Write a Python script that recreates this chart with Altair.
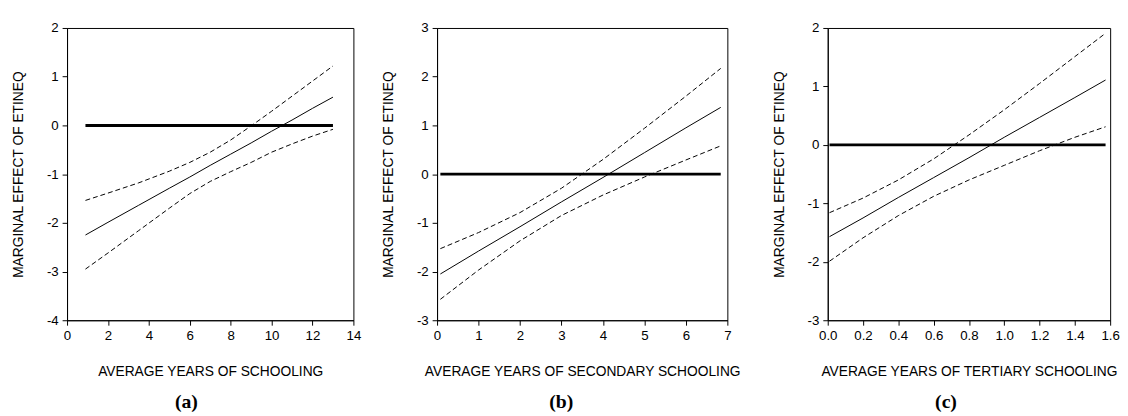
import altair as alt
import pandas as pd

# ---------------- data ----------------
# Panel (a): average years of schooling
A_X = [0.9, 2, 3.5, 5, 6, 7, 8, 9, 10, 11, 12, 13]
A_EST = [-2.25, -1.99, -1.64, -1.29, -1.06, -0.82, -0.59, -0.36, -0.12, 0.11, 0.35, 0.58]
A_UP = [-1.54, -1.39, -1.18, -0.94, -0.76, -0.55, -0.30, -0.01, 0.29, 0.60, 0.91, 1.22]
A_LO = [-2.95, -2.62, -2.16, -1.70, -1.40, -1.15, -0.95, -0.76, -0.55, -0.38, -0.22, -0.08]
A_XTICKS = [0, 2, 4, 6, 8, 10, 12, 14]
A_YTICKS = [2, 1, 0, -1, -2, -3, -4]

# Panel (b): average years of secondary schooling
B_X = [0.08, 1, 2, 3, 4, 5, 6, 6.84]
B_EST = [-2.05, -1.58, -1.08, -0.57, -0.07, 0.44, 0.95, 1.37]
B_UP = [-1.53, -1.20, -0.79, -0.29, 0.30, 0.94, 1.60, 2.17]
B_LO = [-2.57, -1.97, -1.37, -0.85, -0.43, -0.06, 0.29, 0.58]
B_XTICKS = [0, 1, 2, 3, 4, 5, 6, 7]
B_YTICKS = [3, 2, 1, 0, -1, -2, -3]

# Panel (c): average years of tertiary schooling
C_X = [0.01, 0.2, 0.4, 0.6, 0.8, 1.0, 1.2, 1.4, 1.574]
C_EST = [-1.57, -1.25, -0.90, -0.56, -0.22, 0.13, 0.47, 0.81, 1.11]
C_UP = [-1.16, -0.91, -0.60, -0.24, 0.17, 0.60, 1.05, 1.51, 1.91]
C_LO = [-1.99, -1.59, -1.21, -0.88, -0.60, -0.35, -0.10, 0.13, 0.31]
C_XTICKS = [0.0, 0.2, 0.4, 0.6, 0.8, 1.0, 1.2, 1.4, 1.6]
C_YTICKS = [2, 1, 0, -1, -2, -3]

Y_TITLE = "MARGINAL EFFECT OF ETINEQ"
LABEL_EXPR = "replace(datum.label, '\u2212', '-')"


def panel(xs, est, up, lo, xticks, yticks, xdom, ydom, xtitle, caption, width, xfmt):
    df_est = pd.DataFrame({"x": xs, "y": est})
    df_band = pd.DataFrame({
        "x": list(xs) + list(xs),
        "y": list(up) + list(lo),
        "band": ["upper"] * len(xs) + ["lower"] * len(xs),
    })
    df_zero = pd.DataFrame({"x": [xs[0], xs[-1]], "y": [0, 0]})

    xenc = alt.X("x:Q",
                 scale=alt.Scale(domain=xdom, nice=False, zero=False),
                 axis=alt.Axis(values=xticks, format=xfmt, title=xtitle,
                               labelFlush=False, labelExpr=LABEL_EXPR))
    yenc = alt.Y("y:Q",
                 scale=alt.Scale(domain=ydom, nice=False, zero=False),
                 axis=alt.Axis(values=yticks, format="d", title=Y_TITLE,
                               labelExpr=LABEL_EXPR))

    zero = alt.Chart(df_zero).mark_line(color="black", strokeWidth=3).encode(x=xenc, y=yenc)
    band = alt.Chart(df_band).mark_line(color="black", strokeWidth=1,
                                        strokeDash=[5, 3]).encode(
        x=xenc, y=yenc, detail="band:N")
    line = alt.Chart(df_est).mark_line(color="black", strokeWidth=1).encode(x=xenc, y=yenc)

    return alt.layer(zero, band, line).properties(
        width=width, height=297,
        title=alt.TitleParams(caption, orient="bottom", anchor="middle", frame="bounds"),
    )


pa = panel(A_X, A_EST, A_UP, A_LO, A_XTICKS, A_YTICKS, [0, 14], [-4, 2],
           "AVERAGE YEARS OF SCHOOLING", "(a)", 291, "d")
pb = panel(B_X, B_EST, B_UP, B_LO, B_XTICKS, B_YTICKS, [0, 7], [-3, 3],
           "AVERAGE YEARS OF SECONDARY SCHOOLING", "(b)", 295, "d")
pc = panel(C_X, C_EST, C_UP, C_LO, C_XTICKS, C_YTICKS, [0, 1.6], [-3, 2],
           "AVERAGE YEARS OF TERTIARY SCHOOLING", "(c)", 287, ".1f")

chart = alt.hconcat(
    alt.hconcat(pa, pb, spacing=19), pc, spacing=31
).properties(
    padding={"left": 3, "top": 9, "right": 0, "bottom": 0}
).configure(
    font="Liberation Sans"
).configure_view(
    stroke="black", strokeWidth=1
).configure_axis(
    domainColor="black", tickColor="black", labelColor="black", titleColor="black",
    labelFont="Liberation Sans", titleFont="Liberation Sans",
    labelFontSize=13.5, titleFontSize=14, titleFontWeight="normal",
    tickSize=5, grid=False, labelPadding=4, domainWidth=1, tickWidth=1,
).configure_axisY(
    minExtent=30, maxExtent=30, titlePadding=12
).configure_axisX(
    titlePadding=23
).configure_title(
    font="Liberation Serif", fontSize=20, fontWeight="bold", color="black", offset=14
)

chart.save("out.html", embed_options={"renderer": "svg", "actions": False})
